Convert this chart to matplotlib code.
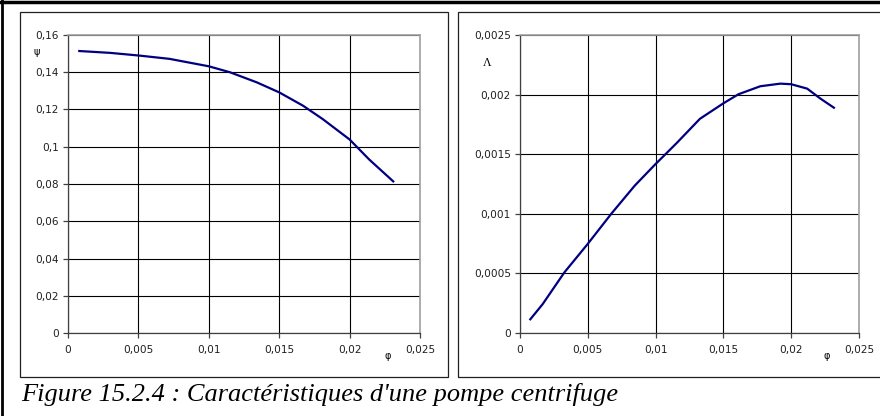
import matplotlib
matplotlib.use("Agg")
import matplotlib.pyplot as plt
from matplotlib.patches import Rectangle
from matplotlib.lines import Line2D
from matplotlib.ticker import FuncFormatter, MultipleLocator

# values
phi_psi = [0.0008, 0.0030, 0.0050, 0.0072, 0.0100, 0.0115, 0.0134,
           0.0150, 0.0167, 0.0181, 0.0200, 0.0214, 0.0231]
psi = [0.1514, 0.1504, 0.1490, 0.1472, 0.1432, 0.1400, 0.1346,
       0.1292, 0.1220, 0.1148, 0.1039, 0.0931, 0.0814]

phi_lam = [0.00076, 0.00167, 0.00327, 0.0050, 0.00673, 0.00846, 0.00994, 0.01155,
           0.01327, 0.01496, 0.01611, 0.01772, 0.0192, 0.0200, 0.02118, 0.02216, 0.02315]
lam = [0.000115, 0.000242, 0.000508, 0.000748, 0.0010, 0.001236, 0.001411, 0.001593,
       0.001797, 0.001924, 0.002003, 0.00207, 0.002092, 0.002087, 0.00205, 0.001966, 0.00189]

caption = "Figure 15.2.4 : Caractéristiques d'une pompe centrifuge"

W, H = 880, 416
SANS = ["DejaVu Sans"]
SERIF = ["Liberation Serif", "DejaVu Serif"]


def fx(px):
    return px / W


def fy(py):
    return 1 - py / H


def comma_fmt(v, pos):
    return ("%g" % round(v, 6)).replace(".", ",")


def style_axes(ax, xmax, ymax, ystep):
    ax.set_xlim(0, xmax)
    ax.set_ylim(0, ymax)
    ax.xaxis.set_major_locator(MultipleLocator(0.005))
    ax.yaxis.set_major_locator(MultipleLocator(ystep))
    ax.xaxis.set_major_formatter(FuncFormatter(comma_fmt))
    ax.yaxis.set_major_formatter(FuncFormatter(comma_fmt))
    ax.grid(True, color="black", linewidth=0.8)
    ax.set_axisbelow(True)
    for side in ("top", "right"):
        ax.spines[side].set_color("#a0a0a0")
        ax.spines[side].set_linewidth(1.2)
    for side in ("left", "bottom"):
        ax.spines[side].set_color("#404040")
        ax.spines[side].set_linewidth(0.9)
    ax.tick_params(direction="out", length=3.5, width=0.9, color="#404040",
                   labelsize=7.6, labelcolor="#202020")
    ax.tick_params(axis="x", pad=5)
    ax.tick_params(axis="y", pad=3)
    for lbl in ax.get_xticklabels() + ax.get_yticklabels():
        lbl.set_family(SANS)


fig = plt.figure(figsize=(W / 100, H / 100), dpi=100)

# outer frame and panel boxes
fig.add_artist(Line2D([0, 1], [fy(1.5), fy(1.5)], color="black", linewidth=2.5))
fig.add_artist(Line2D([fx(2), fx(2)], [0, 1], color="black", linewidth=2.0))
fig.add_artist(Rectangle((fx(20), fy(377)), fx(428), 365 / H, fill=False,
                         edgecolor="#202020", linewidth=0.9))
fig.add_artist(Rectangle((fx(458), fy(377)), fx(440), 365 / H, fill=False,
                         edgecolor="#202020", linewidth=0.9))

axL = fig.add_axes([fx(68), fy(333), fx(352), 298 / H])
axL.plot(phi_psi, psi, color="#000080", linewidth=1.6)
style_axes(axL, 0.025, 0.16, 0.02)

axR = fig.add_axes([fx(520), fy(333), fx(339), 298 / H])
axR.plot(phi_lam, lam, color="#000080", linewidth=1.6)
style_axes(axR, 0.025, 0.0025, 0.0005)

# axis symbols
fig.text(fx(37), fy(52), "ψ", family=SANS, fontsize=7, ha="center", va="center")
fig.text(fx(388), fy(356), "φ", family=SANS, fontsize=7, ha="center", va="center")
fig.text(fx(487), fy(63), "Λ", family=SERIF, fontsize=8.5, ha="center", va="center")
fig.text(fx(827), fy(356), "φ", family=SANS, fontsize=7, ha="center", va="center")

fig.text(fx(21), fy(395), caption, family=SERIF, style="italic", fontsize=19,
         ha="left", va="center")

fig.savefig("out.png", dpi=100)
